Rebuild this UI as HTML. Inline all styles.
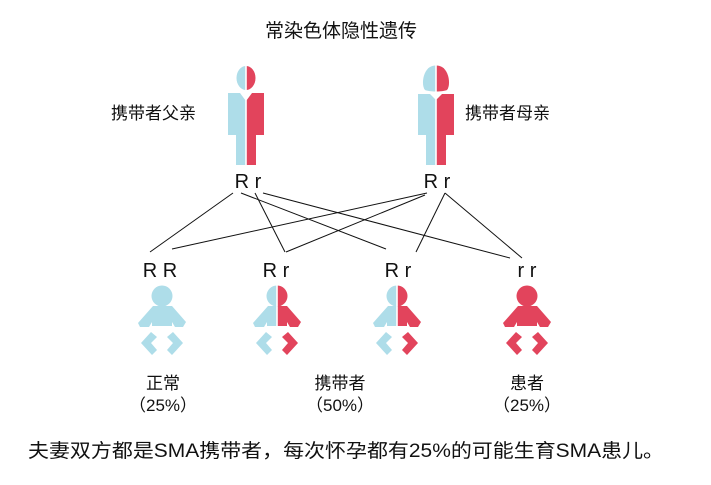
<!DOCTYPE html>
<html><head><meta charset="utf-8"><style>
html,body{margin:0;padding:0;background:#fff}
svg{display:block}
text{font-family:"Liberation Sans","Noto Sans CJK SC",sans-serif;fill:#111}
</style></head><body>
<svg width="711" height="485" viewBox="0 0 711 485" xmlns="http://www.w3.org/2000/svg">
<defs>
<clipPath id="L"><rect x="-100" y="-100" width="99.2" height="300"/></clipPath>
<clipPath id="R"><rect x="0.8" y="-100" width="100" height="300"/></clipPath>
<g id="baby">
<circle cx="0" cy="-1" r="10.5"/>
<polygon points="-9,9 10,9 24,25 21,30 13,30 10,25 10,29 -10,29 -10,25 -13,30 -22,30 -24,26"/>
<polygon points="-21,46 -11,35 -5,40 -11,46 -5,53 -10,58"/>
<polygon points="21,46 11,35 5,40 11,46 5,53 10,58"/>
</g>
<g id="man">
<ellipse cx="0" cy="1" rx="9.5" ry="12"/>
<polygon points="-18,16 -6,16 0,24 6,16 18,16 18,58 10,58 10,88 -10,88 -10,58 -18,58"/>
</g>
<g id="woman">
<path d="M-11,13 C-15,8 -13,-6 -6,-10 C-2,-12 2,-12 6,-10 C13,-6 15,8 11,13 C6,15 -6,15 -11,13Z"/>
<polygon points="-18,17 -6,17 0,23 6,17 18,17 18,58 10,58 10,88 -10,88 -10,58 -18,58"/>
</g>
</defs>

<text x="341" y="37" font-size="19" text-anchor="middle">常染色体隐性遗传</text>

<g transform="translate(246,77)">
<use href="#man" fill="#aedde9" clip-path="url(#L)"/>
<use href="#man" fill="#e2445c" clip-path="url(#R)"/>
</g>
<g transform="translate(436,77)">
<use href="#woman" fill="#aedde9" clip-path="url(#L)"/>
<use href="#woman" fill="#e2445c" clip-path="url(#R)"/>
</g>
<text x="111" y="119" font-size="17">携带者父亲</text>
<text x="465" y="119" font-size="17">携带者母亲</text>

<text x="248" y="188" font-size="20" text-anchor="middle">R r</text>
<text x="437" y="188" font-size="20" text-anchor="middle">R r</text>

<g stroke="#111" stroke-width="1" fill="none">
<line x1="233" y1="193" x2="150" y2="252"/>
<line x1="241" y1="193" x2="386" y2="249"/>
<line x1="255" y1="193" x2="285" y2="252"/>
<line x1="263" y1="193" x2="510" y2="258"/>
<line x1="427" y1="193" x2="172" y2="249"/>
<line x1="425" y1="195" x2="286" y2="252"/>
<line x1="445" y1="193" x2="416" y2="252"/>
<line x1="445" y1="193" x2="522" y2="258"/>
</g>

<text x="160" y="277" font-size="20" text-anchor="middle">R R</text>
<text x="276" y="277" font-size="20" text-anchor="middle">R r</text>
<text x="398" y="277" font-size="20" text-anchor="middle">R r</text>
<text x="527" y="277" font-size="20" text-anchor="middle">r r</text>

<g transform="translate(162,297)"><use href="#baby" fill="#aedde9"/></g>
<g transform="translate(277,297)">
<use href="#baby" fill="#aedde9" clip-path="url(#L)"/>
<use href="#baby" fill="#e2445c" clip-path="url(#R)"/>
</g>
<g transform="translate(397,297)">
<use href="#baby" fill="#aedde9" clip-path="url(#L)"/>
<use href="#baby" fill="#e2445c" clip-path="url(#R)"/>
</g>
<g transform="translate(527,297)"><use href="#baby" fill="#e2445c"/></g>

<g font-size="17" text-anchor="middle">
<text x="163" y="389">正常</text>
<text x="163" y="411">（25%）</text>
<text x="340" y="389">携带者</text>
<text x="340" y="411">（50%）</text>
<text x="527" y="389">患者</text>
<text x="527" y="411">（25%）</text>
</g>

<text x="28" y="457" font-size="19" textLength="636" lengthAdjust="spacingAndGlyphs">夫妻双方都是SMA携带者，每次怀孕都有25%的可能生育SMA患儿。</text>
</svg>
</body></html>
